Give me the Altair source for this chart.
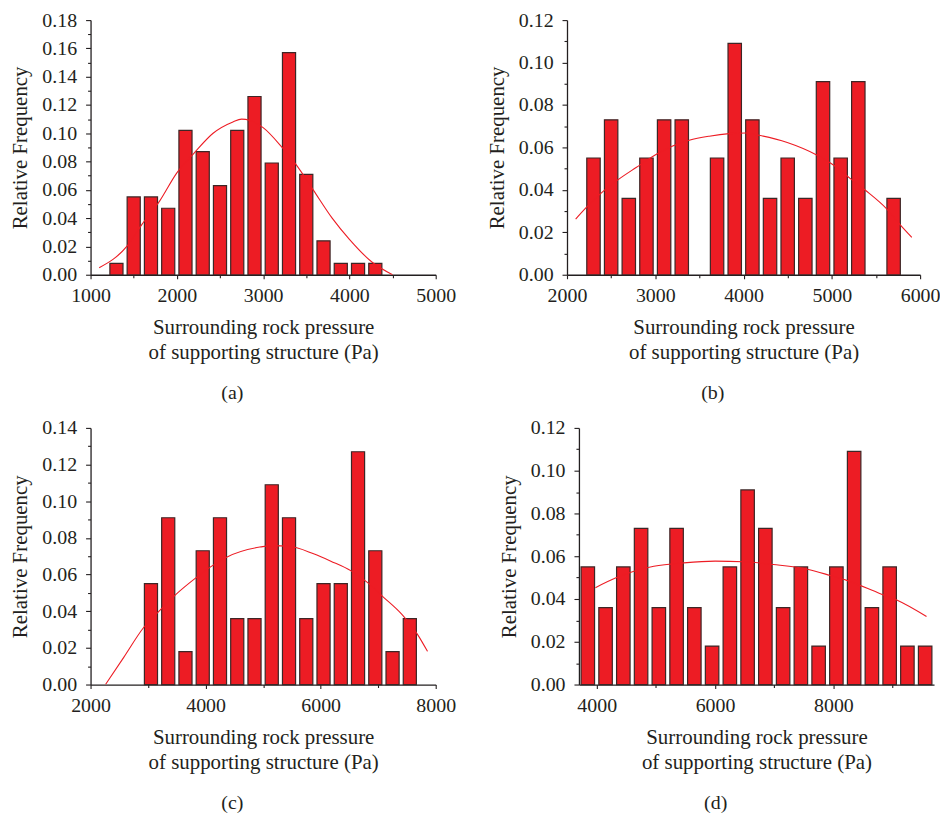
import altair as alt
import pandas as pd

# ---------------- data ----------------
# (a)
a_bins = [1300, 1500, 1700, 1900, 2100, 2300, 2500, 2700, 2900, 3100, 3300, 3500, 3700, 3900, 4100, 4300]
a_freq = [0.008, 0.055, 0.055, 0.047, 0.102, 0.087, 0.063, 0.102, 0.126, 0.079, 0.157, 0.071, 0.024, 0.008, 0.008, 0.008]
a_curve_x = [1100, 1420, 1600, 1800, 2000, 2200, 2420, 2650, 2750, 2850, 3000, 3220, 3380, 3580, 3800, 4000, 4260, 4500]
a_curve_y = [0.005, 0.020, 0.036, 0.052, 0.072, 0.086, 0.100, 0.108, 0.110, 0.109, 0.104, 0.090, 0.078, 0.060, 0.040, 0.025, 0.009, 0.000]

# (b)
b_bins = [2300, 2500, 2700, 2900, 3100, 3300, 3500, 3700, 3900, 4100, 4300, 4500, 4700, 4900, 5100, 5300, 5500, 5700]
b_freq = [0.055, 0.073, 0.036, 0.055, 0.073, 0.073, 0.0, 0.055, 0.109, 0.073, 0.036, 0.055, 0.036, 0.091, 0.055, 0.091, 0.0, 0.036]
b_curve_x = [2098, 2219, 2406, 2576, 2783, 3027, 3197, 3385, 3611, 3837, 4025, 4176, 4495, 4834, 5022, 5210, 5380, 5624, 5775, 5906]
b_curve_y = [0.0262, 0.0317, 0.0392, 0.0447, 0.0505, 0.0571, 0.0607, 0.0634, 0.0653, 0.0665, 0.0668, 0.0657, 0.0623, 0.0563, 0.0516, 0.0453, 0.0398, 0.0309, 0.0235, 0.0176]

# (c)
c_bins = [3050, 3350, 3650, 3950, 4250, 4550, 4850, 5150, 5450, 5750, 6050, 6350, 6650, 6950, 7250, 7550]
c_freq = [0.055, 0.091, 0.018, 0.073, 0.091, 0.036, 0.036, 0.109, 0.091, 0.036, 0.055, 0.055, 0.127, 0.073, 0.018, 0.036]
c_curve_x = [2260, 2577, 2923, 3183, 3471, 3847, 4106, 4366, 4943, 5155, 5460, 5877, 6177, 6530, 6800, 7080, 7420, 7680, 7857]
c_curve_y = [0.000, 0.0148, 0.0311, 0.0398, 0.0488, 0.0586, 0.0646, 0.0695, 0.0750, 0.0758, 0.0754, 0.0713, 0.0673, 0.0620, 0.0560, 0.0480, 0.0380, 0.0275, 0.0181]

# (d)
d_bins = [3850, 4150, 4450, 4750, 5050, 5350, 5650, 5950, 6250, 6550, 6850, 7150, 7450, 7750, 8050, 8350, 8650, 8950, 9250, 9550]
d_freq = [0.055, 0.036, 0.055, 0.073, 0.036, 0.073, 0.036, 0.018, 0.055, 0.091, 0.073, 0.036, 0.055, 0.018, 0.055, 0.109, 0.036, 0.055, 0.018, 0.018]
d_curve_x = [3978, 4326, 4629, 4966, 5472, 6000, 6483, 6983, 7579, 7944, 8225, 8781, 9079, 9573]
d_curve_y = [0.0453, 0.0499, 0.0530, 0.0553, 0.0569, 0.0577, 0.0574, 0.0561, 0.0538, 0.0510, 0.0487, 0.0426, 0.0394, 0.0318]

X_TITLE = ["Surrounding rock pressure", "of supporting structure (Pa)"]
Y_TITLE = "Relative Frequency"

FONT = "Liberation Serif"
INK = "#231f20"
RED = "#ed1c24"
EDGE = "#3d2626"


def panel(bins, freq, bin_w, cx, cy, xdom, xstep, xmajor, ymax, width, height, label, dx):
    bars = pd.DataFrame({"c": bins, "f": freq})
    bars["x0"] = bars["c"] - 0.38 * bin_w
    bars["x1"] = bars["c"] + 0.38 * bin_w
    bars["base"] = 0.0
    curve = pd.DataFrame({"x": cx, "y": cy})

    start = xdom[0] if xdom[0] % xstep == 0 else (xdom[0] // xstep + 1) * xstep
    xvals = list(range(start, xdom[1] + 1, xstep))
    yvals = [round(i * 0.01, 2) for i in range(int(round(ymax * 100)) + 1)]

    xs = alt.Scale(domain=list(xdom), nice=False, zero=False)
    ys = alt.Scale(domain=[0, ymax], nice=False, zero=True)

    x_axis = alt.Axis(
        values=xvals, format="d",
        labelExpr=f"datum.value % {xmajor} == 0 ? datum.label : ''",
        tickSize={"condition": {"test": f"datum.value % {xmajor} == 0", "value": 4}, "value": 3},
        labelFlush=False, labelOverlap=False, grid=False,
        labelPadding=7, title=X_TITLE, titlePadding=11, titleLineHeight=25,
    )
    y_axis = alt.Axis(
        values=yvals, format=".2f",
        labelExpr="round(datum.value * 100) % 2 == 0 ? datum.label : ''",
        tickSize={"condition": {"test": "round(datum.value * 100) % 2 == 0", "value": 5}, "value": 3},
        labelOverlap=False, grid=False, labelPadding=9,
        minExtent=50, maxExtent=50, title=Y_TITLE, titlePadding=10,
    )

    bar_layer = alt.Chart(bars).transform_filter("datum.f > 0").mark_bar(
        fill=RED, stroke=EDGE, strokeWidth=1.2
    ).encode(
        x=alt.X("x0:Q", scale=xs, axis=x_axis),
        x2="x1:Q",
        y=alt.Y("f:Q", scale=ys, axis=y_axis),
        y2="base:Q",
    )
    line_layer = alt.Chart(curve).mark_line(
        color=RED, strokeWidth=1.1, interpolate="monotone", clip=True
    ).encode(
        x=alt.X("x:Q", scale=xs, axis=x_axis),
        y=alt.Y("y:Q", scale=ys, axis=y_axis),
    )
    return alt.layer(bar_layer, line_layer).properties(
        width=width, height=height,
        title=alt.TitleParams(label, orient="bottom", dx=dx, offset=21, fontSize=20,
                              font=FONT, fontWeight="normal", color=INK),
    )


pa = panel(a_bins, a_freq, 200, a_curve_x, a_curve_y, (1000, 5000), 500, 1000, 0.18, 347, 256, "(a)", -31)
pb = panel(b_bins, b_freq, 200, b_curve_x, b_curve_y, (2000, 6000), 500, 1000, 0.12, 355, 256, "(b)", -31)
pc = panel(c_bins, c_freq, 300, c_curve_x, c_curve_y, (2000, 8000), 1000, 2000, 0.14, 347, 258, "(c)", -31)
pd_ = panel(d_bins, d_freq, 300, d_curve_x, d_curve_y, (3700, 9700), 1000, 2000, 0.12, 357, 258, "(d)", -41)

chart = alt.vconcat(
    alt.hconcat(pa, pb, spacing=31),
    alt.hconcat(pc, pd_, spacing=43),
    spacing=15,
).properties(
    padding={"left": 2, "top": 0, "right": 0, "bottom": 0},
    background="white",
).configure_view(
    stroke=None
).configure_axis(
    domainColor=INK, domainWidth=1.3, tickColor=INK, tickWidth=1.1,
    labelColor=INK, titleColor=INK,
    labelFont=FONT, titleFont=FONT, labelFontSize=20, titleFontSize=21,
    titleFontWeight="normal",
)

chart.save("out.html", embed_options={"renderer": "svg", "actions": False})
